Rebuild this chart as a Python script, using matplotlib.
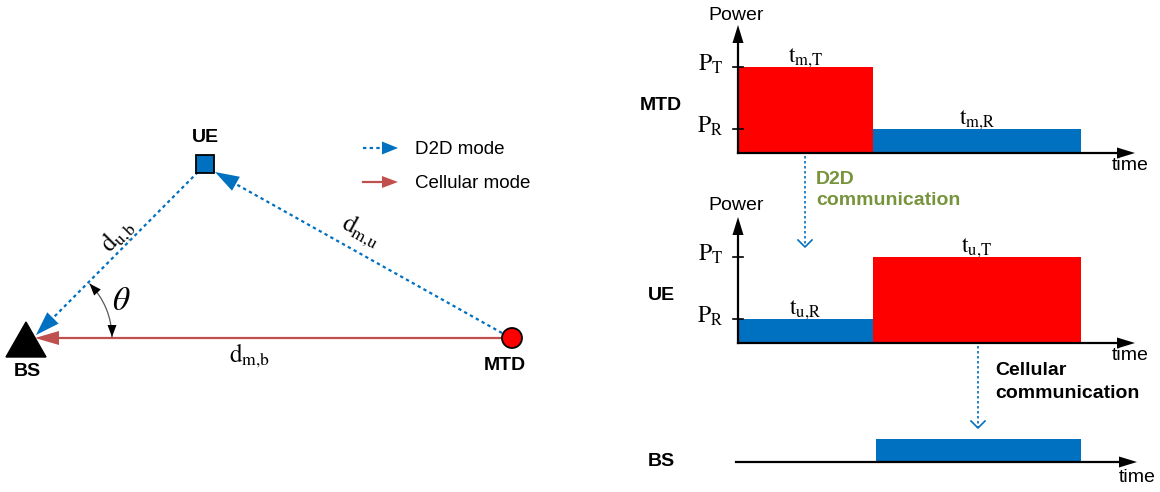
"""Draw the D2D / cellular relaying diagram with power-time schedules -> out.png"""
import matplotlib.pyplot as plt
from matplotlib.patches import Polygon, Rectangle, Circle, Arc
import numpy as np

plt.rcParams.update({
    "font.family": ["Liberation Sans", "DejaVu Sans"],
    "mathtext.fontset": "stix",
})

# ---- geometry of the left sketch (pixel coords, y down) ----
bs_pos = (35, 338)
ue_pos = (205, 164)
mtd_pos = (512, 338)

# ---- power/time schedules of the right panels ----
levels = {"T": 86, "R": 24}                  # bar heights for P_T / P_R
mtd_schedule = [("T", 0, 135), ("R", 135, 343)]
ue_schedule = [("R", 0, 135), ("T", 135, 343)]
bs_schedule = [(138, 343)]
bs_level = 23
mtd_labels = {"T": r"$\mathrm{t}_{\mathrm{m{,}T}}$", "R": r"$\mathrm{t}_{\mathrm{m{,}R}}$"}
ue_labels = {"T": r"$\mathrm{t}_{\mathrm{u{,}T}}$", "R": r"$\mathrm{t}_{\mathrm{u{,}R}}$"}

BLUE = "#0070C0"
RED = "#FF0000"
DARKRED = "#C0504D"
GREEN = "#77933C"

fig = plt.figure(figsize=(11.6, 4.92), dpi=100)
ax = fig.add_axes([0, 0, 1, 1])
ax.set_xlim(0, 1160)
ax.set_ylim(492, 0)
ax.axis("off")


def head(tip, frm, color, length=22, width=16, z=4):
    tip = np.array(tip, float)
    d = tip - np.array(frm, float)
    d /= np.hypot(*d)
    n = np.array([-d[1], d[0]])
    base = tip - d * length
    pts = [tip, base + n * width / 2, base - n * width / 2]
    ax.add_patch(Polygon(pts, closed=True, color=color, lw=0, zorder=z))


def open_head(tip, color, size=7):
    x, y = tip
    ax.plot([x - size, x, x + size], [y - size, y, y - size], color=color, lw=1.2)


# ---- left: links ----
# cellular link MTD -> BS
ax.plot([mtd_pos[0], bs_pos[0] + 20], [bs_pos[1], bs_pos[1]], color=DARKRED, lw=1.6, zorder=2)
head(bs_pos, mtd_pos, DARKRED, length=24, width=14)

# D2D link UE -> BS
ue_tip = (36, 335)
ax.plot([198, 50], [172, 321], color=BLUE, lw=1.6, ls=(0, (1.5, 1.5)), zorder=2)
head(ue_tip, (198, 172), BLUE, length=24, width=16)

# D2D link MTD -> UE
ue_in = (215, 172)
ax.plot([502, 234], [333, 183], color=BLUE, lw=1.6, ls=(0, (1.5, 1.5)), zorder=2)
head(ue_in, (502, 333), BLUE, length=24, width=16)

# nodes
ax.add_patch(Polygon([(26, 322), (6, 357), (46, 357)], closed=True, color="black", zorder=5))
ax.add_patch(Rectangle((ue_pos[0] - 9, ue_pos[1] - 9), 18, 18, fc=BLUE, ec="black", lw=1.3, zorder=5))
ax.add_patch(Circle(mtd_pos, 10, fc=RED, ec="black", lw=1.3, zorder=5))

bold = dict(fontsize=14, fontweight="bold", ha="center", va="center")
ax.text(27, 372, "BS", **bold)
ax.text(205, 137, "UE", **bold)
ax.text(505, 366, "MTD", **bold)

# angle theta (y axis is inverted, so negative angles open upward)
r = 77
ax.add_patch(Arc(bs_pos, 2 * r, 2 * r, theta1=-45, theta2=0, color="0.35", lw=0.9, zorder=3))
head((bs_pos[0] + r, bs_pos[1] - 1), (bs_pos[0] + r, bs_pos[1] - 15), "black", length=12, width=9)
a = np.deg2rad(45)
p1 = (bs_pos[0] + r * np.cos(a), bs_pos[1] - r * np.sin(a))
head(p1, (p1[0] + 9, p1[1] + 10), "black", length=12, width=9)
ax.text(121, 301, r"$\theta$", fontsize=24, ha="center", va="center")

# distance labels
ax.text(118, 236, r"$\mathrm{d}_{\mathrm{u{,}b}}$", fontsize=18, rotation=45,
        ha="center", va="center", rotation_mode="anchor")
ax.text(361, 232, r"$\mathrm{d}_{\mathrm{m{,}u}}$", fontsize=18, rotation=-29,
        ha="center", va="center", rotation_mode="anchor")
ax.text(250, 356, r"$\mathrm{d}_{\mathrm{m{,}b}}$", fontsize=18, ha="center", va="center")

# legend
ax.plot([363, 382], [148, 148], color=BLUE, lw=1.6, ls=(0, (1.5, 1.5)))
head((398, 148), (363, 148), BLUE, length=16, width=13)
ax.text(415, 149, "D2D mode", fontsize=13.5, va="center")
ax.plot([363, 386], [182, 182], color=DARKRED, lw=1.6)
head((398, 182), (363, 182), DARKRED, length=16, width=12)
ax.text(415, 183, "Cellular mode", fontsize=13.5, va="center")


# ---- right: power-time diagrams ----
X0 = 738


def axes_arrows(y0, ytop, xend=1135):
    ax.plot([X0, xend - 14], [y0, y0], color="black", lw=1.6, zorder=6)
    head((xend, y0), (X0, y0), "black", length=18, width=11, z=6)
    ax.plot([X0, X0], [y0, ytop + 14], color="black", lw=1.6, zorder=6)
    head((X0, ytop), (X0, y0), "black", length=18, width=11, z=6)


def panel(y0, schedule, labels, name, ytop, power_y):
    for kind, t0, t1 in schedule:
        h = levels[kind]
        ax.add_patch(Rectangle((X0 + t0, y0 - h), t1 - t0, h,
                               color=RED if kind == "T" else BLUE, lw=0, zorder=3))
        ax.text(X0 + (t0 + t1) / 2, y0 - h - 9, labels[kind], fontsize=17,
                ha="center", va="center")
    axes_arrows(y0, ytop)
    for kind in ("T", "R"):
        yy = y0 - levels[kind]
        ax.plot([X0 - 5, X0 + 5], [yy, yy], color="black", lw=1.2, zorder=6)
        ax.text(723, yy - 3, r"$\mathrm{P}_{\mathrm{%s}}$" % kind, fontsize=17,
                ha="right", va="center")
    ax.text(X0 - 2, power_y, "Power", fontsize=14, ha="center", va="center")
    ax.text(1130, y0 + 13, "time", fontsize=14, ha="center", va="center")
    ax.text(661, y0 - 47, name, **bold)


panel(153, mtd_schedule, mtd_labels, "MTD", 25, 16)
panel(343, ue_schedule, ue_labels, "UE", 217, 205)

# BS row
yb = 462
for t0, t1 in bs_schedule:
    ax.add_patch(Rectangle((X0 + t0, yb - bs_level), t1 - t0, bs_level, color=BLUE, lw=0, zorder=3))
ax.plot([736, 1122], [yb, yb], color="black", lw=1.6, zorder=6)
head((1137, yb), (736, yb), "black", length=18, width=11, z=6)
ax.text(1137, 478, "time", fontsize=14, ha="center", va="center")
ax.text(661, 462, "BS", **bold)

# communication arrows
ax.plot([805, 805], [156, 246], color=BLUE, lw=1.2, ls=(0, (1.5, 1.5)))
open_head((805, 247), BLUE)
ax.text(816, 190, "D2D\ncommunication", fontsize=14, fontweight="bold", color=GREEN,
        va="center", ha="left", linespacing=1.25)
ax.plot([978, 978], [346, 427], color=BLUE, lw=1.2, ls=(0, (1.5, 1.5)))
open_head((978, 428), BLUE)
ax.text(995, 382, "Cellular\ncommunication", fontsize=14, fontweight="bold", color="black",
        va="center", ha="left", linespacing=1.4)

fig.savefig("out.png", dpi=100)
